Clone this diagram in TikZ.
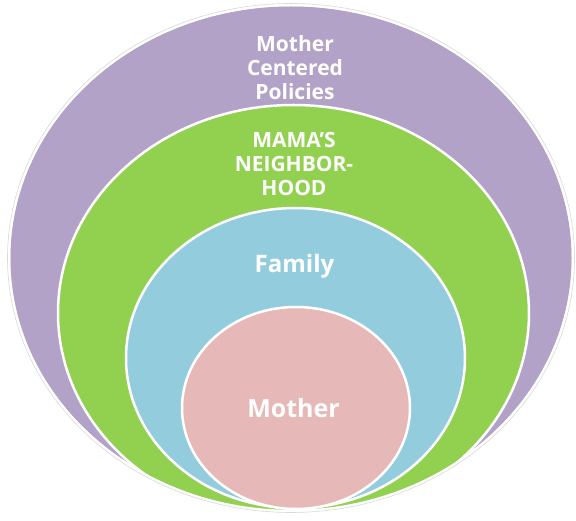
\documentclass[tikz,border=0pt]{standalone}
\usepackage{fontspec}
\setsansfont{Open Sans}
\definecolor{policypurple}{HTML}{B3A2C7}
\definecolor{hoodgreen}{HTML}{92D050}
\definecolor{familyblue}{HTML}{93CDDD}
\definecolor{motherpink}{HTML}{E6B9B8}
\tikzset{
	ring/.style = {draw = white, line width = 2.5pt},
	ringtext/.style = {text = white, align = center, inner sep = 0pt,
		font = \sffamily\bfseries\fontsize{#1}{24}\selectfont}
}
\begin{document}
\begin{tikzpicture}[x = 1pt, y = -1pt]
	\useasboundingbox (0, 0) rectangle (576, 521);
	
	% outer ring
	\draw [ring, fill = policypurple] (291, 258) ellipse [x radius = 282, y radius = 253];
	
	% inner rings, cut off by the outer one
	\begin{scope}
	\clip (291, 258) ellipse [x radius = 282, y radius = 253];
	\draw [ring, fill = hoodgreen] (293.5, 313) ellipse [x radius = 235.5, y radius = 208];
	\draw [ring, fill = familyblue] (295.5, 358) ellipse [x radius = 169.5, y radius = 150];
	\draw [ring, fill = motherpink] (296, 408) ellipse [x radius = 114, y radius = 101];
	\end{scope}
	
	% edge of the outer ring
	\draw [white, line width = 2.5pt] (291, 258) ellipse [x radius = 282, y radius = 253];
	\draw [gray!30, line width = .6pt] (291, 258) ellipse [x radius = 283.5, y radius = 254.5];
	
	% labels
	\node [ringtext = 21] (policies) at (295, 68) {Mother\\Centered\\Policies};
	\node [ringtext = 21] (hood) at (294, 164) {MAMA'S\\NEIGHBOR-\\HOOD};
	\node [ringtext = 24] (family) at (294.5, 266) {Family};
	\node [ringtext = 25] (mother) at (293.5, 408) {Mother};
\end{tikzpicture}
\end{document}
